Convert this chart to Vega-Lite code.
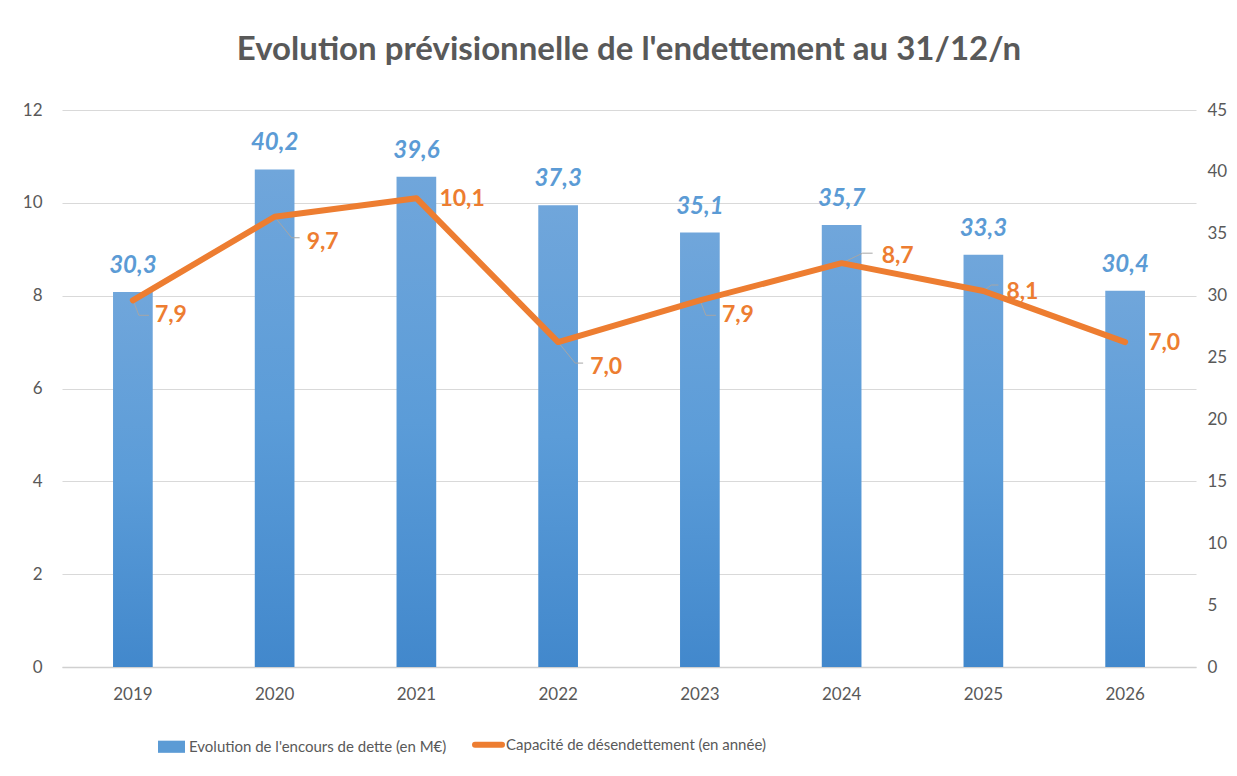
{
  "$schema": "https://vega.github.io/schema/vega-lite/v6.json",
  "autosize": "none",
  "width": 1134,
  "height": 557,
  "padding": {"left": 62, "top": 110, "right": 41, "bottom": 109},
  "background": "white",
  "config": {
    "locale": {"number": {"decimal": ",", "thousands": " ", "grouping": [3], "currency": ["", " €"]}},
    "view": {"stroke": null},
    "font": "Lato",
    "axis": {"labelFont": "Lato", "labelFontSize": 17, "labelColor": "#595959", "ticks": false, "title": null},
    "legend": {
      "orient": "none",
      "legendX": 102,
      "legendY": 627,
      "direction": "horizontal",
      "title": null,
      "labelFont": "Lato",
      "labelFontSize": 15,
      "labelColor": "#595959",
      "labelOffset": 10,
      "columnPadding": 16,
      "symbolSize": 729,
      "labelLimit": 500
    }
  },
  "title": {
    "text": "Evolution prévisionnelle de l'endettement au 31/12/n",
    "font": "Lato",
    "fontSize": 33,
    "fontWeight": "bold",
    "color": "#595959",
    "anchor": "middle",
    "baseline": "alphabetic",
    "offset": 8
  },
  "data": {
    "values": [
      {"year": "2019", "dette": 30.3, "capacite": 7.9},
      {"year": "2020", "dette": 40.2, "capacite": 9.7},
      {"year": "2021", "dette": 39.6, "capacite": 10.1},
      {"year": "2022", "dette": 37.3, "capacite": 7.0},
      {"year": "2023", "dette": 35.1, "capacite": 7.9},
      {"year": "2024", "dette": 35.7, "capacite": 8.7},
      {"year": "2025", "dette": 33.3, "capacite": 8.1},
      {"year": "2026", "dette": 30.4, "capacite": 7.0}
    ]
  },
  "encoding": {
    "x": {
      "field": "year",
      "type": "ordinal",
      "scale": {"paddingInner": 0.72, "paddingOuter": 0.36},
      "axis": {"labelAngle": 0, "labelPadding": 19, "domainColor": "#D0D0D0", "domainWidth": 1.5, "grid": false}
    }
  },
  "layer": [
    {
      "encoding": {
        "y": {
          "field": "dette",
          "type": "quantitative",
          "scale": {"domain": [0, 45]},
          "axis": {"orient": "right", "values": [0, 5, 10, 15, 20, 25, 30, 35, 40, 45], "grid": false, "domain": false, "labelPadding": 11}
        }
      },
      "layer": [
        {
          "mark": {
            "type": "bar",
            "strokeWidth": 0,
            "fill": {
              "gradient": "linear", "x1": 0, "y1": 0, "x2": 0, "y2": 1,
              "stops": [
                {"offset": 0, "color": "#70A6DB"},
                {"offset": 0.5, "color": "#5B9CD8"},
                {"offset": 1, "color": "#4288CC"}
              ]
            }
          },
          "encoding": {
            "stroke": {
              "datum": "Evolution de l'encours de dette (en M€)",
              "scale": {
                "domain": ["Evolution de l'encours de dette (en M€)", "Capacité de désendettement (en année)"],
                "range": ["#5B9BD5", "#ED7D31"]
              },
              "legend": {
                "symbolType": "M-1,-0.45H1V0.45H-1Z",
                "encode": {
                  "symbols": {
                    "update": {
                      "shape": {"signal": "datum.value === 'Capacité de désendettement (en année)' ? 'M-1,0H1' : 'M-1,-0.45H1V0.45H-1Z'"},
                      "fill": {"signal": "datum.value === 'Capacité de désendettement (en année)' ? 'transparent' : '#5B9BD5'"},
                      "stroke": {"signal": "datum.value === 'Capacité de désendettement (en année)' ? '#ED7D31' : '#5B9BD5'"},
                      "strokeWidth": {"signal": "datum.value === 'Capacité de désendettement (en année)' ? 6 : 0"},
                      "strokeCap": {"value": "round"},
                      "opacity": {"value": 1}
                    }
                  }
                }
              }
            }
          }
        },
        {
          "mark": {"type": "text", "font": "Lato", "fontSize": 24, "fontWeight": "bold", "fontStyle": "italic", "color": "#5B9BD5", "baseline": "bottom", "dy": -14},
          "encoding": {
            "text": {"field": "dette", "type": "quantitative", "format": ".1f"}
          }
        }
      ]
    },
    {
      "encoding": {
        "y": {
          "field": "capacite",
          "type": "quantitative",
          "scale": {"domain": [0, 12]},
          "axis": {"orient": "left", "values": [0, 2, 4, 6, 8, 10, 12], "grid": true, "gridColor": "#D9D9D9", "gridWidth": 1, "domain": false, "labelPadding": 20}
        }
      },
      "layer": [
        {
          "transform": [{"filter": "indexof(['2020','2022'], datum.year) >= 0"}],
          "mark": {"type": "rule", "color": "#A6A6A6", "strokeWidth": 1, "x2Offset": 17, "y2Offset": 21},
          "encoding": {"x2": {"field": "year"}, "y2": {"field": "capacite"}}
        },
        {
          "transform": [{"filter": "indexof(['2020','2022'], datum.year) >= 0"}],
          "mark": {"type": "rule", "color": "#A6A6A6", "strokeWidth": 1, "xOffset": 17, "yOffset": 21, "x2Offset": 25, "y2Offset": 21},
          "encoding": {"x2": {"field": "year"}, "y2": {"field": "capacite"}}
        },
        {
          "transform": [{"filter": "indexof(['2019','2023'], datum.year) >= 0"}],
          "mark": {"type": "rule", "color": "#A6A6A6", "strokeWidth": 1, "xOffset": 1, "yOffset": 2, "x2Offset": 6, "y2Offset": 15},
          "encoding": {"x2": {"field": "year"}, "y2": {"field": "capacite"}}
        },
        {
          "transform": [{"filter": "indexof(['2019','2023'], datum.year) >= 0"}],
          "mark": {"type": "rule", "color": "#A6A6A6", "strokeWidth": 1, "xOffset": 6, "yOffset": 15, "x2Offset": 16, "y2Offset": 15},
          "encoding": {"x2": {"field": "year"}, "y2": {"field": "capacite"}}
        },
        {
          "transform": [{"filter": "datum.year === '2024'"}],
          "mark": {"type": "rule", "color": "#A6A6A6", "strokeWidth": 1, "x2Offset": 21, "y2Offset": -10},
          "encoding": {"x2": {"field": "year"}, "y2": {"field": "capacite"}}
        },
        {
          "transform": [{"filter": "datum.year === '2024'"}],
          "mark": {"type": "rule", "color": "#A6A6A6", "strokeWidth": 1, "xOffset": 21, "yOffset": -10, "x2Offset": 31, "y2Offset": -10},
          "encoding": {"x2": {"field": "year"}, "y2": {"field": "capacite"}}
        },
        {
          "transform": [{"filter": "datum.year === '2025'"}],
          "mark": {"type": "rule", "color": "#A6A6A6", "strokeWidth": 1, "x2Offset": 8, "y2Offset": -6},
          "encoding": {"x2": {"field": "year"}, "y2": {"field": "capacite"}}
        },
        {
          "transform": [{"filter": "datum.year === '2025'"}],
          "mark": {"type": "rule", "color": "#A6A6A6", "strokeWidth": 1, "xOffset": 8, "yOffset": -6, "x2Offset": 15, "y2Offset": -6},
          "encoding": {"x2": {"field": "year"}, "y2": {"field": "capacite"}}
        },
        {
          "mark": {"type": "line", "strokeWidth": 6, "strokeCap": "round", "strokeJoin": "round"},
          "encoding": {
            "stroke": {
              "datum": "Capacité de désendettement (en année)",
              "legend": {
                "symbolType": "M-1,-0.45H1V0.45H-1Z",
                "encode": {
                  "symbols": {
                    "update": {
                      "shape": {"signal": "datum.value === 'Capacité de désendettement (en année)' ? 'M-1,0H1' : 'M-1,-0.45H1V0.45H-1Z'"},
                      "fill": {"signal": "datum.value === 'Capacité de désendettement (en année)' ? 'transparent' : '#5B9BD5'"},
                      "stroke": {"signal": "datum.value === 'Capacité de désendettement (en année)' ? '#ED7D31' : '#5B9BD5'"},
                      "strokeWidth": {"signal": "datum.value === 'Capacité de désendettement (en année)' ? 6 : 0"},
                      "strokeCap": {"value": "round"},
                      "opacity": {"value": 1}
                    }
                  }
                }
              }
            }
          }
        },
        {
          "transform": [{"filter": "indexof(['2020','2022'], datum.year) >= 0"}],
          "mark": {"type": "text", "font": "Lato", "fontSize": 23, "fontWeight": "bold", "color": "#ED7D31", "align": "left", "baseline": "middle", "dx": 32, "dy": 25},
          "encoding": {"text": {"field": "capacite", "type": "quantitative", "format": ".1f"}}
        },
        {
          "transform": [{"filter": "indexof(['2019','2023'], datum.year) >= 0"}],
          "mark": {"type": "text", "font": "Lato", "fontSize": 23, "fontWeight": "bold", "color": "#ED7D31", "align": "left", "baseline": "middle", "dx": 22, "dy": 15},
          "encoding": {"text": {"field": "capacite", "type": "quantitative", "format": ".1f"}}
        },
        {
          "transform": [{"filter": "indexof(['2021','2025','2026'], datum.year) >= 0"}],
          "mark": {"type": "text", "font": "Lato", "fontSize": 23, "fontWeight": "bold", "color": "#ED7D31", "align": "left", "baseline": "middle", "dx": 23, "dy": 1},
          "encoding": {"text": {"field": "capacite", "type": "quantitative", "format": ".1f"}}
        },
        {
          "transform": [{"filter": "datum.year === '2024'"}],
          "mark": {"type": "text", "font": "Lato", "fontSize": 23, "fontWeight": "bold", "color": "#ED7D31", "align": "left", "baseline": "middle", "dx": 40, "dy": -7},
          "encoding": {"text": {"field": "capacite", "type": "quantitative", "format": ".1f"}}
        }
      ]
    }
  ],
  "resolve": {"scale": {"y": "independent"}}
}
